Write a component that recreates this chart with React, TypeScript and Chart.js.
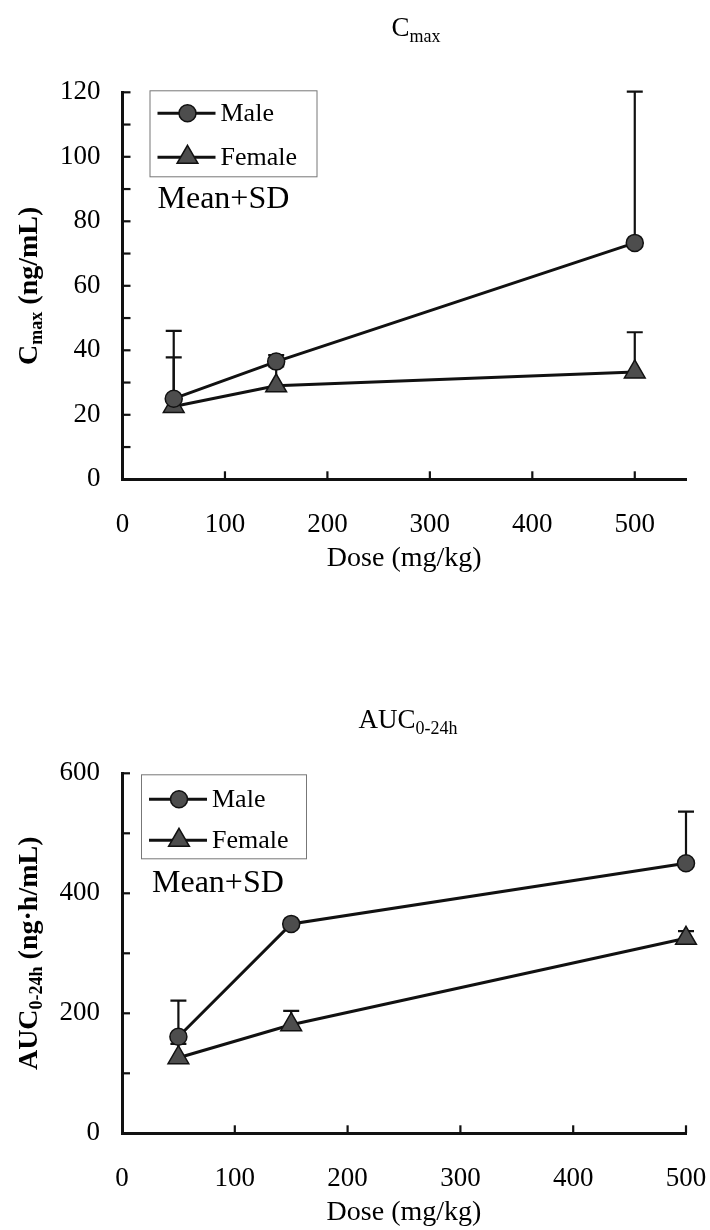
import React, { useEffect, useRef } from 'react';
import { Chart, registerables } from 'chart.js';

Chart.register(...registerables);

// ---------- data ----------
const doses = [50, 150, 500];

const cmaxMale = [25, 36.5, 73.3];
const cmaxMaleUpper = [46, 38.5, 120.2];
const cmaxFemale = [22.6, 29, 33.3];
const cmaxFemaleUpper = [37.8, 35, 45.6];

const aucMale = [161, 349, 450];
const aucMaleUpper = [221, 354, 536];
const aucFemale = [126, 181, 325];
const aucFemaleUpper = [149, 204, 337];

const cmaxXTicks = [0, 100, 200, 300, 400, 500];
const cmaxYTicks = [0, 20, 40, 60, 80, 100, 120];
const cmaxYMinor = [10, 30, 50, 70, 90, 110];

const aucXTicks = [0, 100, 200, 300, 400, 500];
const aucYTicks = [0, 200, 400, 600];
const aucYMinor = [100, 300, 500];

const seriesNames = ['Male', 'Female'];

// ---------- styling ----------
const SERIF = "'Liberation Serif', 'Times New Roman', serif";
const INK = '#111';
const MARK_FILL = '#4d4d4d';

type Series = {
  label: string;
  values: number[];
  upper: number[];
  style: 'circle' | 'triangle';
  radius: number;
};

type Panel = {
  height: number;
  xMax: number;
  xTicks: number[];
  yMax: number;
  yTicks: number[];
  yMinor: number[];
  series: Series[];
  padTop: number;
  padRight: number;
  yWidth: number;
  xHeight: number;
  xTitlePadBottom: number;
  title: [string, string];
  titleX: number;
  titleBase: number;
  yTitle: [string, string, string];
  legend: { dx: number; dy: number; w: number; h: number; r1: number; r2: number };
  note: { dx: number; dy: number };
};

function drawMarker(ctx: CanvasRenderingContext2D, style: string, x: number, y: number, r: number) {
  ctx.save();
  ctx.fillStyle = MARK_FILL;
  ctx.strokeStyle = INK;
  ctx.lineWidth = 1.5;
  ctx.beginPath();
  if (style === 'circle') {
    ctx.arc(x, y, r, 0, Math.PI * 2);
  } else {
    ctx.moveTo(x, y - r);
    ctx.lineTo(x + 0.866 * r, y + 0.5 * r);
    ctx.lineTo(x - 0.866 * r, y + 0.5 * r);
    ctx.closePath();
  }
  ctx.fill();
  ctx.stroke();
  ctx.restore();
}

function makePlugin(p: Panel) {
  return {
    id: 'decor',
    beforeDatasetsDraw(chart: any) {
      const ctx: CanvasRenderingContext2D = chart.ctx;
      const xs = chart.scales.x;
      const ys = chart.scales.y;
      ctx.save();
      ctx.strokeStyle = INK;
      ctx.lineWidth = 2.2;
      p.series.forEach((s) => {
        s.values.forEach((v, i) => {
          const px = xs.getPixelForValue(doses[i]);
          const y0 = ys.getPixelForValue(v);
          const y1 = ys.getPixelForValue(s.upper[i]);
          ctx.beginPath();
          ctx.moveTo(px, y0);
          ctx.lineTo(px, y1);
          ctx.moveTo(px - 8, y1);
          ctx.lineTo(px + 8, y1);
          ctx.stroke();
        });
      });
      ctx.restore();
    },
    afterDraw(chart: any) {
      const ctx: CanvasRenderingContext2D = chart.ctx;
      const xs = chart.scales.x;
      const ys = chart.scales.y;
      const area = chart.chartArea;
      // inward tick marks
      ctx.save();
      ctx.strokeStyle = INK;
      ctx.lineWidth = 2.2;
      [...p.yTicks, ...p.yMinor].forEach((v) => {
        const py = ys.getPixelForValue(v);
        ctx.beginPath();
        ctx.moveTo(area.left, py);
        ctx.lineTo(area.left + 8, py);
        ctx.stroke();
      });
      p.xTicks.forEach((v) => {
        if (v === 0) return;
        const px = xs.getPixelForValue(v);
        ctx.beginPath();
        ctx.moveTo(px, area.bottom);
        ctx.lineTo(px, area.bottom - 8);
        ctx.stroke();
      });
      ctx.restore();

      // legend
      const L = p.legend;
      const lx = area.left + L.dx;
      const ly = area.top + L.dy;
      ctx.save();
      ctx.strokeStyle = '#777';
      ctx.lineWidth = 1;
      ctx.strokeRect(lx + 0.5, ly + 0.5, L.w, L.h);
      const rows = [L.r1, L.r2];
      p.series.forEach((s, i) => {
        const ry = ly + rows[i];
        ctx.strokeStyle = INK;
        ctx.lineWidth = 3;
        ctx.beginPath();
        ctx.moveTo(lx + 8, ry);
        ctx.lineTo(lx + 66, ry);
        ctx.stroke();
        drawMarker(ctx, s.style, lx + 38, ry, s.radius);
        ctx.fillStyle = '#000';
        ctx.font = `26px ${SERIF}`;
        ctx.textBaseline = 'middle';
        ctx.textAlign = 'left';
        ctx.fillText(s.label, lx + 71, ry + 1);
      });
      // Mean+SD note
      ctx.font = `32px ${SERIF}`;
      ctx.textBaseline = 'middle';
      ctx.fillText('Mean+SD', lx + p.note.dx, ly + L.h + p.note.dy);

      // chart title with subscript
      ctx.textBaseline = 'alphabetic';
      ctx.font = `27px ${SERIF}`;
      const w1 = ctx.measureText(p.title[0]).width;
      ctx.font = `18px ${SERIF}`;
      const w2 = ctx.measureText(p.title[1]).width;
      const tx = p.titleX - (w1 + w2) / 2;
      ctx.font = `27px ${SERIF}`;
      ctx.fillText(p.title[0], tx, p.titleBase);
      ctx.font = `18px ${SERIF}`;
      ctx.fillText(p.title[1], tx + w1, p.titleBase + 6);

      // rotated y-axis title
      const cy = (area.top + area.bottom) / 2;
      ctx.translate(37, cy);
      ctx.rotate(-Math.PI / 2);
      const fBig = `bold 28px ${SERIF}`;
      const fSub = `bold 18px ${SERIF}`;
      ctx.font = fBig;
      const a = ctx.measureText(p.yTitle[0]).width;
      const c = ctx.measureText(p.yTitle[2]).width;
      ctx.font = fSub;
      const b = ctx.measureText(p.yTitle[1]).width;
      let x = -(a + b + c) / 2;
      ctx.font = fBig;
      ctx.fillText(p.yTitle[0], x, 0);
      x += a;
      ctx.font = fSub;
      ctx.fillText(p.yTitle[1], x, 5);
      x += b;
      ctx.font = fBig;
      ctx.fillText(p.yTitle[2], x, 0);
      ctx.restore();
    },
  };
}

function buildConfig(p: Panel): any {
  return {
    type: 'line',
    data: {
      datasets: p.series.map((s) => ({
        label: s.label,
        data: doses.map((d, i) => ({ x: d, y: s.values[i] })),
        borderColor: INK,
        borderWidth: 3,
        pointStyle: s.style,
        pointRadius: s.radius,
        pointBackgroundColor: MARK_FILL,
        pointBorderColor: INK,
        pointBorderWidth: 1.5,
        tension: 0,
        fill: false,
        clip: false,
      })),
    },
    options: {
      responsive: false,
      animation: false,
      layout: { padding: { top: p.padTop, right: p.padRight, left: 0, bottom: 0 } },
      plugins: { legend: { display: false }, tooltip: { enabled: false }, title: { display: false } },
      scales: {
        x: {
          type: 'linear',
          min: 0,
          max: p.xMax,
          afterBuildTicks: (s: any) => {
            s.ticks = p.xTicks.map((v) => ({ value: v }));
          },
          afterFit: (s: any) => {
            s.height = p.xHeight;
            s.paddingLeft = 0;
            s.paddingRight = 0;
          },
          grid: { display: true, drawOnChartArea: false, drawTicks: false },
          border: { display: true, color: INK, width: 3 },
          ticks: {
            padding: 29,
            maxRotation: 0,
            autoSkip: false,
            color: '#000',
            font: { family: SERIF, size: 27 },
          },
          title: {
            display: true,
            text: 'Dose (mg/kg)',
            color: '#000',
            font: { family: SERIF, size: 28 },
            padding: { top: 0, bottom: p.xTitlePadBottom },
          },
        },
        y: {
          type: 'linear',
          min: 0,
          max: p.yMax,
          afterBuildTicks: (s: any) => {
            s.ticks = p.yTicks.map((v) => ({ value: v }));
          },
          afterFit: (s: any) => {
            s.width = p.yWidth;
            s.paddingTop = 0;
            s.paddingBottom = 0;
          },
          grid: { display: true, drawOnChartArea: false, drawTicks: false },
          border: { display: true, color: INK, width: 3 },
          ticks: {
            padding: 22,
            autoSkip: false,
            color: '#000',
            font: { family: SERIF, size: 27 },
          },
        },
      },
    },
    plugins: [makePlugin(p)],
  };
}

const topPanel: Panel = {
  height: 600,
  xMax: 550,
  xTicks: cmaxXTicks,
  yMax: 120,
  yTicks: cmaxYTicks,
  yMinor: cmaxYMinor,
  series: [
    { label: seriesNames[0], values: cmaxMale, upper: cmaxMaleUpper, style: 'circle', radius: 8.5 },
    { label: seriesNames[1], values: cmaxFemale, upper: cmaxFemaleUpper, style: 'triangle', radius: 12 },
  ],
  padTop: 92.3,
  padRight: 24,
  yWidth: 122.5,
  xHeight: 120.7,
  xTitlePadBottom: 25,
  title: ['C', 'max'],
  titleX: 416,
  titleBase: 36,
  yTitle: ['C', 'max', ' (ng/mL)'],
  legend: { dx: 27, dy: -2, w: 167, h: 86, r1: 23, r2: 67 },
  note: { dx: 8, dy: 23 },
};

const bottomPanel: Panel = {
  height: 630,
  xMax: 500,
  xTicks: aucXTicks,
  yMax: 600,
  yTicks: aucYTicks,
  yMinor: aucYMinor,
  series: [
    { label: seriesNames[0], values: aucMale, upper: aucMaleUpper, style: 'circle', radius: 8.5 },
    { label: seriesNames[1], values: aucFemale, upper: aucFemaleUpper, style: 'triangle', radius: 12 },
  ],
  padTop: 173.3,
  padRight: 24,
  yWidth: 122,
  xHeight: 96.7,
  xTitlePadBottom: 1,
  title: ['AUC', '0-24h'],
  titleX: 408,
  titleBase: 128,
  yTitle: ['AUC', '0-24h', ' (ng\u00B7h/mL)'],
  legend: { dx: 19, dy: 1, w: 165, h: 84, r1: 25, r2: 66 },
  note: { dx: 11, dy: 25 },
};

function PanelChart({ panel }: { panel: Panel }) {
  const ref = useRef<HTMLCanvasElement | null>(null);
  useEffect(() => {
    if (!ref.current) return;
    const chart = new Chart(ref.current, buildConfig(panel));
    return () => chart.destroy();
  }, [panel]);
  return (
    <canvas
      ref={ref}
      width={710}
      height={panel.height}
      style={{ display: 'block', width: 710, height: panel.height }}
    />
  );
}

export default function App() {
  return (
    <div
      style={{
        position: 'absolute',
        left: 0,
        top: 0,
        width: 710,
        height: 1230,
        background: '#fff',
        overflow: 'hidden',
      }}
    >
      <PanelChart panel={topPanel} />
      <PanelChart panel={bottomPanel} />
    </div>
  );
}
